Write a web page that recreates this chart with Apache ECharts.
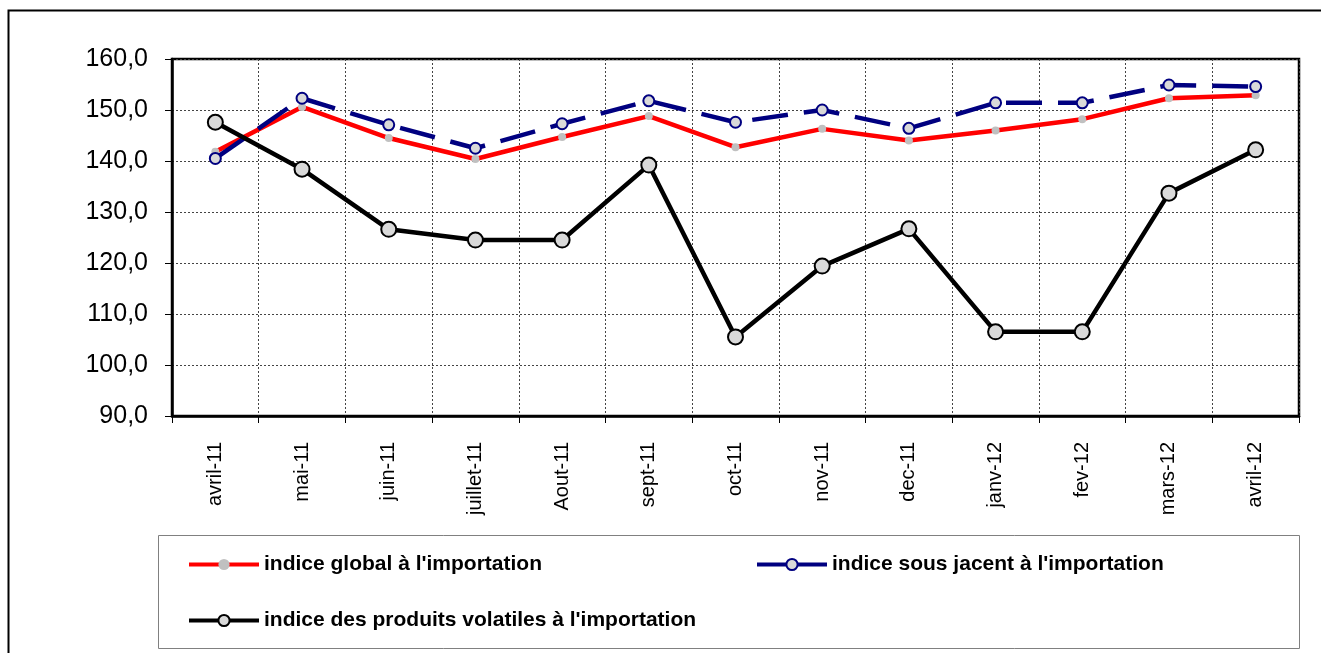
<!DOCTYPE html>
<html lang="fr">
<head>
    <meta charset="UTF-8">
    <title>indices à l'importation</title>
    <style>
        html, body { margin: 0; padding: 0; background: #fff; }
        #chart { width: 1321px; height: 653px; }
    </style>
</head>
<body>
<div id="chart"></div>
<script src="https://cdn.jsdelivr.net/npm/echarts@6/dist/echarts.min.js"></script>
<script>
    var months = ['avril-11', 'mai-11', 'juin-11', 'juillet-11', 'Aout-11', 'sept-11', 'oct-11',
        'nov-11', 'dec-11', 'janv-12', 'fev-12', 'mars-12', 'avril-12'];
    var indiceGlobal = [141.8, 150.6, 144.5, 140.4, 144.7, 148.8, 142.7, 146.3, 144.0, 146.0, 148.2, 152.3, 152.9];
    var indiceSousJacent = [140.5, 152.3, 147.1, 142.5, 147.3, 151.8, 147.6, 150.0, 146.4, 151.4, 151.4, 154.9, 154.6];
    var indiceVolatiles = [147.6, 138.4, 126.6, 124.5, 124.5, 139.2, 105.5, 119.4, 126.7, 106.5, 106.5, 133.7, 142.2];
    var yTicks = [90, 100, 110, 120, 130, 140, 150, 160];

    var names = ["indice global à l'importation", "indice sous jacent à l'importation",
        "indice des produits volatiles à l'importation"];

    var chart = echarts.init(document.getElementById('chart'));
    var font = '"Liberation Sans", Arial, sans-serif';

    function oneLegend(name, left, top) {
        return {
            data: [name],
            left: left,
            top: top,
            itemWidth: 70,
            itemHeight: 14,
            padding: 0,
            selectedMode: false,
            lineStyle: { type: 'solid', width: 4 },
            textStyle: { fontFamily: font, fontSize: 21, fontWeight: 'bold', color: '#000' }
        };
    }

    var option = {
        backgroundColor: '#fff',
        animation: false,
        graphic: [
            // cadre exterieur
            {
                type: 'rect', left: 6, top: 8, z: -1,
                shape: { width: 1400, height: 700 },
                style: { fill: 'none', stroke: '#000', lineWidth: 2 }
            },
            // cadre legende
            {
                type: 'rect', left: 156, top: 533, z: -1,
                shape: { width: 1141, height: 113 },
                style: { fill: 'none', stroke: '#808080', lineWidth: 1 }
            }
        ],
        legend: [
            oneLegend(names[0], 187, 554),
            oneLegend(names[1], 755, 554),
            oneLegend(names[2], 187, 610)
        ],
        grid: {
            left: 172, top: 59, right: 22, bottom: 237,
            show: true, borderColor: '#000', borderWidth: 2.5
        },
        xAxis: {
            type: 'category',
            data: months,
            boundaryGap: true,
            axisLine: { lineStyle: { color: '#000', width: 2.5 } },
            axisTick: { show: true, length: 7, inside: false, lineStyle: { color: '#000', width: 1 } },
            axisLabel: {
                rotate: 90, margin: 26, color: '#000',
                fontFamily: font, fontSize: 20, interval: 0
            },
            splitLine: { show: true, lineStyle: { color: '#444', width: 1, type: [2, 2] } }
        },
        yAxis: {
            type: 'value',
            min: yTicks[0],
            max: yTicks[yTicks.length - 1],
            interval: 10,
            axisLine: { show: true, lineStyle: { color: '#000', width: 2.5 } },
            axisTick: { show: true, length: 7, lineStyle: { color: '#000', width: 1 } },
            axisLabel: {
                margin: 24, color: '#000', fontFamily: font, fontSize: 25,
                formatter: function (v) { return v.toFixed(1).replace('.', ','); }
            },
            splitLine: { show: true, lineStyle: { color: '#444', width: 1, type: [2, 2] } }
        },
        series: [
            {
                name: names[0],
                type: 'line',
                data: indiceGlobal,
                symbol: 'circle',
                symbolSize: 8,
                lineStyle: { color: '#ff0000', width: 4.5 },
                itemStyle: { color: '#c0c0c0', borderWidth: 0 },
                z: 2
            },
            {
                name: names[1],
                type: 'line',
                data: indiceSousJacent,
                symbol: 'circle',
                symbolSize: 11,
                lineStyle: { color: '#000080', width: 4.5, type: [36, 16] },
                itemStyle: { color: '#d9d9d9', borderColor: '#000080', borderWidth: 2 },
                z: 3
            },
            {
                name: names[2],
                type: 'line',
                data: indiceVolatiles,
                symbol: 'circle',
                symbolSize: 15,
                lineStyle: { color: '#000', width: 4.5 },
                itemStyle: { color: '#d9d9d9', borderColor: '#000', borderWidth: 2 },
                z: 4
            }
        ]
    };

    chart.setOption(option);
</script>
</body>
</html>
